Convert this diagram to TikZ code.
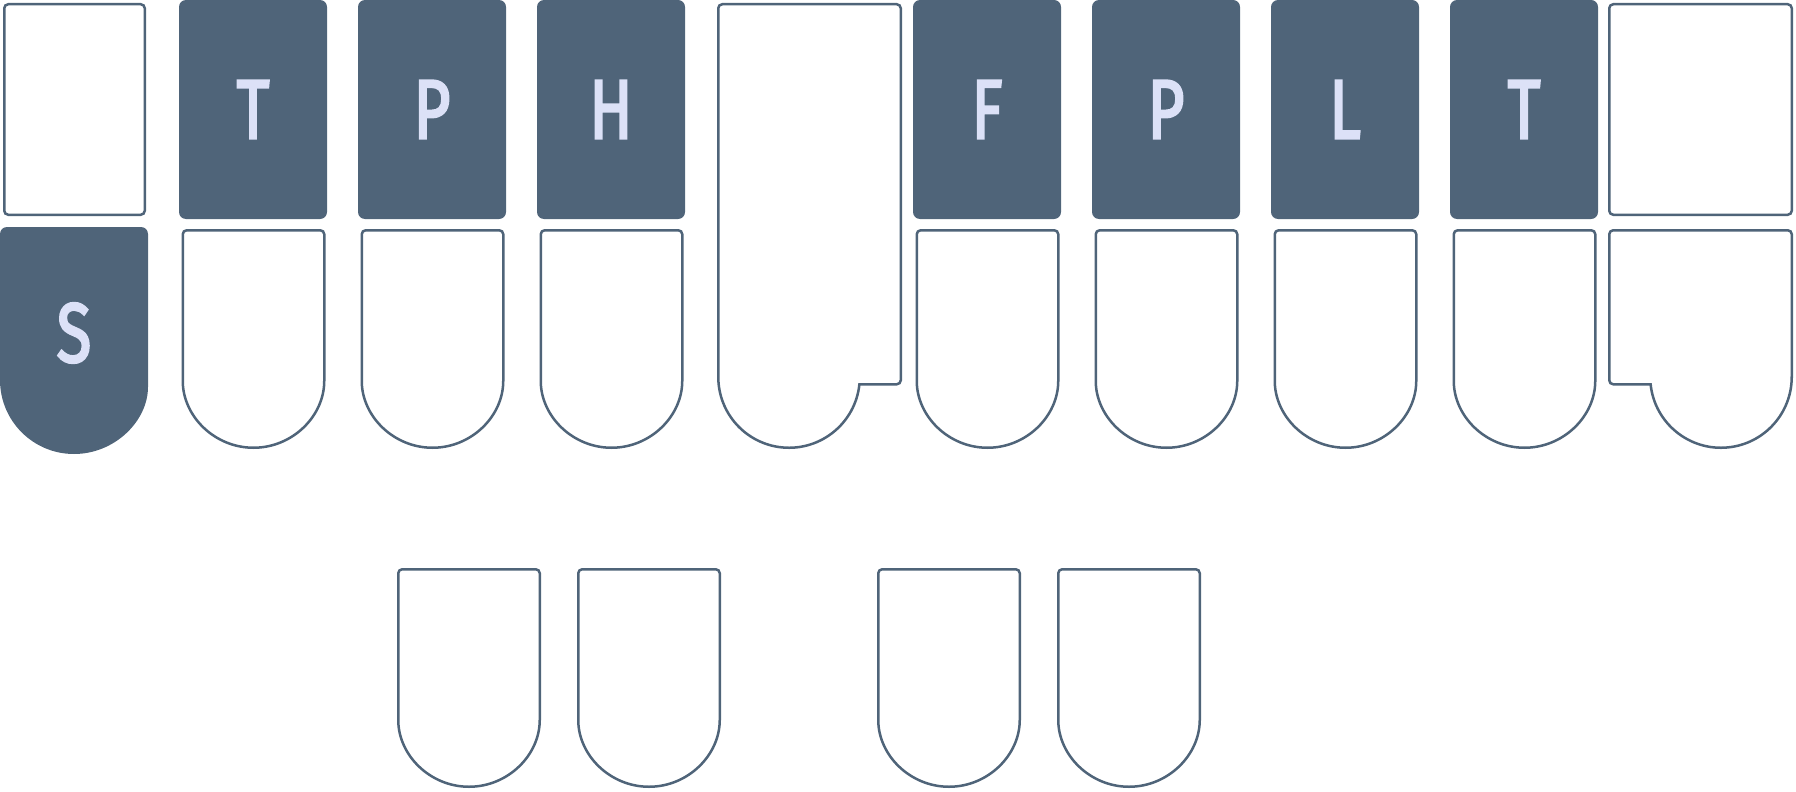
\documentclass[tikz,border=0pt]{standalone}
\usepackage{fontspec}
\setmainfont{Fira Sans}
\newfontfamily\keyfont{Fira Sans}[FakeBold=3]
\definecolor{keyfill}{HTML}{4F6479}
\definecolor{keytext}{HTML}{DCE1F7}
\begin{document}
\begin{tikzpicture}[x=1pt,y=1pt,
  outl/.style={draw=keyfill,line width=2.5pt,fill=white,rounded corners=4pt},
  filledkey/.style={fill=keyfill,rounded corners=7pt},
  lbl/.style={text=keytext,font=\keyfont\fontsize{84}{84}\selectfont,xscale=0.76,inner sep=0pt,anchor=center},
  ukey/.pic={\draw[outl] (142.75,-148) arc (0:-180:70.75) -- (1.25,-1.25) -- (142.75,-1.25) -- cycle;}]
\useasboundingbox (0,0) rectangle (1796,-792);
% top-left and top-right outline boxes
\draw[outl] (4.25,-4.25) rectangle (144.75,-214.75);
\draw[outl] (1609.25,-4.25) rectangle (1791.75,-214.75);
% filled top keys
\foreach \x/\n in {179/t1,358/p1,537/h1,913/f1,1092/p2,1271/l1,1450/t2}{
  \fill[filledkey] (\x,0) rectangle ++(148,-219);
}
\node[lbl] (lT1) at (253,-109.5) {T};
\node[lbl] (lP1) at (432,-109.5) {P};
\node[lbl] (lH) at (611,-109.5) {H};
\node[lbl] (lF) at (987,-109.5) {F};
\node[lbl] (lP2) at (1166,-109.5) {P};
\node[lbl] (lL) at (1345,-109.5) {L};
\node[lbl] (lT2) at (1524,-109.5) {T};
% S key
\fill[keyfill] (148,-380) arc (0:-180:74) [rounded corners=7pt] -- (0,-227) -- (148,-227) -- cycle;
\node[lbl] (lS) at (74,-333) {S};
% star key
\draw[outl] (718.25,-377) -- (718.25,-4.25) -- (900.75,-4.25) -- (900.75,-384.3) [sharp corners] -- (859.4,-384.3) arc (-5.92:-180:70.75) -- cycle;
% lower right key
\draw[outl] (1791.75,-377) -- (1791.75,-230.25) -- (1609.25,-230.25) -- (1609.25,-384.3) [sharp corners] -- (1650.6,-384.3) arc (-174.08:0:70.75) -- cycle;
% second row keys
\foreach \x in {181.5,360.5,539.5,915.5,1094.5,1273.5,1452.5}{
  \pic at (\x,-229) {ukey};
}
% vowel keys
\foreach \x in {397,577,877,1057}{
  \pic at (\x,-568) {ukey};
}
\end{tikzpicture}
\end{document}
